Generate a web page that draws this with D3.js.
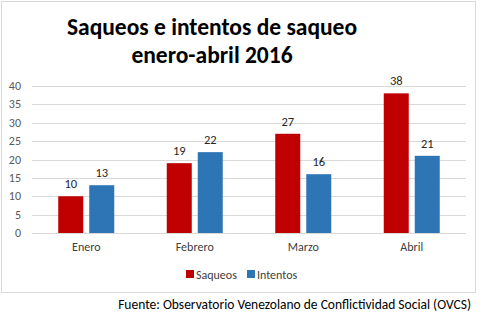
<!DOCTYPE html>
<html><head><meta charset="utf-8">
<script src="https://cdn.jsdelivr.net/npm/d3@7"></script>
<style>body{margin:0;background:#fff}svg{display:block}text{font-family:Carlito,"Liberation Sans",Arial,sans-serif}</style>
</head><body>
<script>
const categories = ["Enero","Febrero","Marzo","Abril"];
const saqueos = [10,19,27,38];
const intentos = [13,22,16,21];
const seriesNames = ["Saqueos","Intentos"];
const seriesColors = ["#c00000","#2e75b6"];
const yTicks = [0,5,10,15,20,25,30,35,40];
const titleLines = ["Saqueos e intentos de saqueo","enero-abril 2016"];
const source = "Fuente: Observatorio Venezolano de Conflictividad Social (OVCS)";

const W=481,H=322;
const svg=d3.select("body").append("svg").attr("width",W).attr("height",H);
svg.append("rect").attr("x",1.5).attr("y",1.5).attr("width",474).attr("height",291)
  .attr("fill","#fff").attr("stroke","#d9d9d9");

const x=d3.scaleBand().domain(categories).range([32,466]);
const y=d3.scaleLinear().domain([0,40]).range([233,86]);
const bw=25,gap=6;

svg.append("g").selectAll("line").data(yTicks).join("line")
  .attr("x1",32).attr("x2",466).attr("y1",d=>Math.round(y(d))+0.5).attr("y2",d=>Math.round(y(d))+0.5)
  .attr("stroke","#d9d9d9");
svg.append("g").selectAll("text").data(yTicks).join("text")
  .attr("x",21).attr("y",d=>y(d)+4).attr("text-anchor","end")
  .attr("font-size",12).attr("fill","#595959").text(d=>d);

const data=[saqueos,intentos];
data.forEach((vals,si)=>{
  const g=svg.append("g");
  g.selectAll("rect").data(categories).join("rect")
    .attr("x",(c)=>x(c)+x.bandwidth()/2-bw-gap/2+si*(bw+gap))
    .attr("y",(c,i)=>y(vals[i])).attr("width",bw)
    .attr("height",(c,i)=>y(0)-y(vals[i])).attr("fill",seriesColors[si]);
  g.selectAll("text").data(categories).join("text")
    .attr("x",(c)=>x(c)+x.bandwidth()/2-bw/2-gap/2+si*(bw+gap))
    .attr("y",(c,i)=>y(vals[i])-8).attr("text-anchor","middle")
    .attr("font-size",12.5).attr("fill","#262626").text((c,i)=>vals[i]);
});

svg.append("g").selectAll("text").data(categories).join("text")
  .attr("x",c=>x(c)+x.bandwidth()/2).attr("y",251).attr("text-anchor","middle")
  .attr("font-size",12).attr("fill","#404040").text(c=>c);

// legend
const leg=[{x:186,tx:196},{x:247,tx:257}];
seriesNames.forEach((n,i)=>{
  svg.append("rect").attr("x",leg[i].x).attr("y",270).attr("width",8).attr("height",8).attr("fill",seriesColors[i]);
  svg.append("text").attr("x",leg[i].tx).attr("y",278.5).attr("font-size",12).attr("fill","#404040").text(n);
});

svg.selectAll(".title").data(titleLines).join("text")
  .attr("x",212).attr("y",(d,i)=>35+i*28).attr("text-anchor","middle")
  .attr("font-size",23.5).attr("font-weight","bold").attr("fill","#000").text(d=>d);

svg.append("text").attr("x",471).attr("y",309).attr("text-anchor","end")
  .attr("font-size",13.5).attr("fill","#000").text(source);
</script>
</body></html>
